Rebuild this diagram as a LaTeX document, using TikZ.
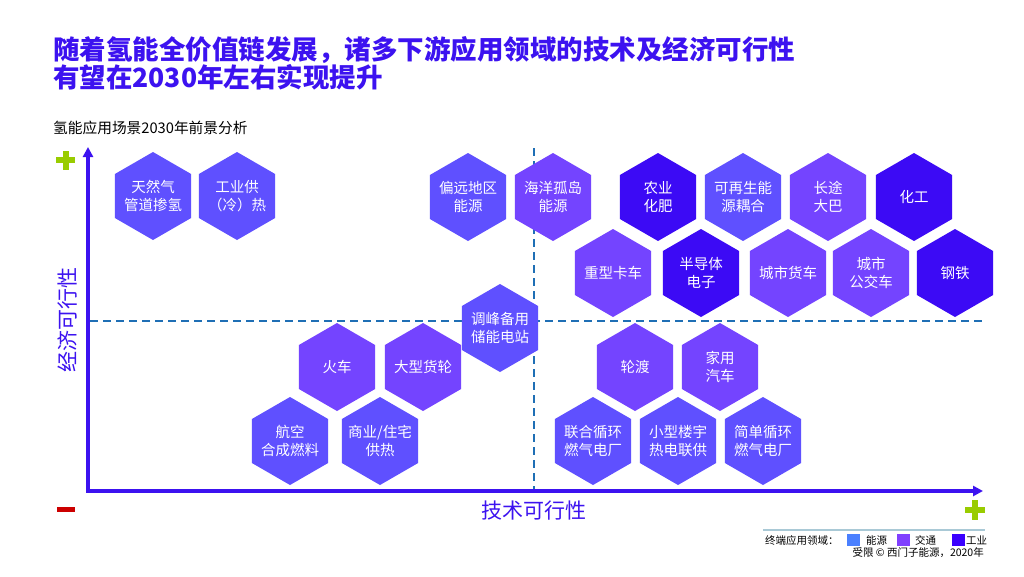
\documentclass[tikz,border=0pt]{standalone}
\usepackage{fontspec}
\setmainfont{Noto Sans CJK SC}
\usetikzlibrary{shapes.geometric,arrows.meta}
\definecolor{cEnergy}{HTML}{5F50FF}
\definecolor{cTrans}{HTML}{7444FF}
\definecolor{cInd}{HTML}{3C0AF5}
\definecolor{axisc}{HTML}{3C12F0}
\definecolor{dashc}{HTML}{1F6FB5}
\definecolor{plusg}{HTML}{99CC00}
\definecolor{minusr}{HTML}{CC0000}
\definecolor{legE}{HTML}{4A80FF}
\definecolor{legT}{HTML}{8040FF}
\definecolor{legI}{HTML}{3A00FF}
\definecolor{legline}{HTML}{A9C9D6}
\tikzset{
  hexbox/.style={regular polygon, regular polygon sides=6, shape border rotate=30,
    minimum size=88pt, inner sep=0pt, outer sep=0pt,
    label={[text=white, align=center, inner sep=0pt,
      font=\fontsize{14.5}{18}\selectfont]center:#1}},
  enh/.style={hexbox={#1}, fill=cEnergy},
  trh/.style={hexbox={#1}, fill=cTrans},
  inh/.style={hexbox={#1}, fill=cInd},
  dashline/.style={dashc, line width=1.5pt, dash pattern=on 8pt off 5pt},
  axisline/.style={axisc, line width=3.5pt},
  legtext/.style={font=\fontsize{10.5}{12}\selectfont, inner sep=0pt},
  legsq/.style={minimum width=13pt, minimum height=12pt, inner sep=0pt},
  axlabel/.style={font=\fontsize{21}{21}\selectfont, text=axisc, inner sep=0pt}
}
\begin{document}
\begin{tikzpicture}[x=1pt,y=-1pt]
\useasboundingbox[fill=white] (0,0) rectangle (1024,576);

% title
\node[anchor=north west, inner sep=0pt, align=left, text=axisc,
  font=\fontsize{26.5}{25.5}\selectfont\bfseries] (title) at (53,36)
  {随着氢能全价值链发展，诸多下游应用领域的技术及经济可行性\\有望在2030年左右实现提升};
\node[anchor=west, inner sep=0pt, font=\fontsize{14.7}{16}\selectfont] (sub) at (53,128)
  {氢能应用场景2030年前景分析};

% dashed quadrant lines
\coordinate (hd1) at (90,321);
\coordinate (hd2) at (985,321);
\coordinate (vd1) at (534,148);
\coordinate (vd2) at (534,489);
\draw[dashline] (hd1) -- (hd2);
\draw[dashline] (vd1) -- (vd2);

% axes
\coordinate (ytop) at (88,147);
\coordinate (O) at (88,491);
\coordinate (xend) at (983,491);
\draw[axisline, line join=miter, {Triangle[length=10pt,width=10pt]}-{Triangle[length=10pt,width=10pt]}] (ytop) -- (O) -- (xend);

% plus / minus marks
\fill[plusg] (56,157) rectangle (75,163);
\fill[plusg] (62.5,151) rectangle (68.5,170);
\fill[minusr] (57,507) rectangle (75,512);
\fill[plusg] (965,506.5) rectangle (985,512.5);
\fill[plusg] (972,499.5) rectangle (978,520);

% axis labels
\node[axlabel] (xlab) at (534,511) {技术可行性};
\node[axlabel, rotate=90] (ylab) at (68,320) {经济可行性};

% hexagons: top row
\node[enh={天然气\\管道掺氢}] (gas) at (153,196) {};
\node[enh={工业供\\（冷）热}] (heat) at (237,196) {};
\node[enh={偏远地区\\能源}] (remote) at (468,197) {};
\node[trh={海洋孤岛\\能源}] (island) at (553,197) {};
\node[inh={农业\\化肥}] (fert) at (658,197) {};
\node[enh={可再生能\\源耦合}] (renew) at (743,197) {};
\node[trh={长途\\大巴}] (bus) at (828,197) {};
\node[inh={化工}] (chem) at (914,197) {};
% second row
\node[trh={重型卡车}] (truck) at (613,273) {};
\node[inh={半导体\\电子}] (semi) at (701,273) {};
\node[trh={城市货车}] (van) at (788,273) {};
\node[trh={城市\\公交车}] (cbus) at (871,273) {};
\node[inh={钢铁}] (steel) at (955,273) {};
% middle
\node[enh={调峰备用\\储能电站}] (peak) at (500,328) {};
\node[trh={火车}] (train) at (337,367) {};
\node[trh={大型货轮}] (ship) at (423,367) {};
\node[trh={轮渡}] (ferry) at (635,367) {};
\node[trh={家用\\汽车}] (car) at (720,367) {};
% bottom row
\node[enh={航空\\合成燃料}] (avia) at (290,441) {};
\node[enh={商业/住宅\\供热}] (comm) at (380,441) {};
\node[enh={联合循环\\燃气电厂}] (ccgt) at (593,441) {};
\node[enh={小型楼宇\\热电联供}] (chp) at (678,441) {};
\node[enh={简单循环\\燃气电厂}] (ocgt) at (763,441) {};

% legend
\coordinate (ll1) at (763,530);
\coordinate (ll2) at (985,530);
\draw[legline, line width=1.5pt] (ll1) -- (ll2);
\node[legtext, anchor=west] (legt) at (765,540) {终端应用领域：};
\node[legsq, fill=legE] (sqE) at (853,540) {};
\node[legtext, anchor=west] (lE) at (866,540) {能源};
\node[legsq, fill=legT] (sqT) at (903,540) {};
\node[legtext, anchor=west] (lT) at (915,540) {交通};
\node[legsq, fill=legI] (sqI) at (958,540) {};
\node[legtext, anchor=west] (lI) at (966,540) {工业};
\node[legtext, anchor=east] (src) at (984,553) {受限 © 西门子能源，2020年};
\end{tikzpicture}
\end{document}
